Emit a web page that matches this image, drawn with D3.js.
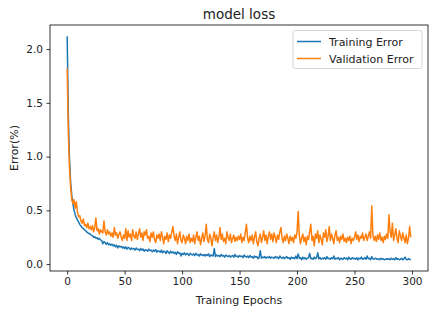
<!DOCTYPE html>
<html>
<head>
<meta charset="utf-8">
<script src="https://cdn.jsdelivr.net/npm/d3@7"></script>
<style>
  body { margin: 0; background: #fff; }
  svg { font-family: 'DejaVu Sans', sans-serif; }
</style>
</head>
<body>
<svg id="chart"></svg>
<script>
// training / validation loss per epoch
const trainLoss = [
  2.12, 1.38, 0.98, 0.76, 0.64, 0.56, 0.50, 0.46, 0.43, 0.41,
  0.39, 0.37, 0.355, 0.34, 0.33, 0.32, 0.31, 0.30, 0.29, 0.285,
  0.28, 0.27, 0.265, 0.25, 0.255, 0.24, 0.245, 0.23, 0.24, 0.225,
  0.22, 0.19, 0.21, 0.2, 0.185, 0.2, 0.18, 0.19, 0.175, 0.185,
  0.17, 0.18, 0.16, 0.175, 0.15, 0.17, 0.16, 0.165, 0.15, 0.16,
  0.145, 0.16, 0.14, 0.155, 0.15, 0.135, 0.15, 0.14, 0.145, 0.13,
  0.15, 0.135, 0.14, 0.125, 0.145, 0.13, 0.14, 0.12, 0.135, 0.13,
  0.12, 0.14, 0.125, 0.13, 0.115, 0.13, 0.12, 0.135, 0.11, 0.125,
  0.12, 0.11, 0.13, 0.105, 0.12, 0.115, 0.1, 0.125, 0.11, 0.1,
  0.12, 0.105, 0.115, 0.1, 0.11, 0.09, 0.115, 0.1, 0.105, 0.075,
  0.1, 0.09, 0.105, 0.085, 0.1, 0.095, 0.08, 0.1, 0.09, 0.085,
  0.095, 0.08, 0.1, 0.085, 0.09, 0.075, 0.095, 0.085, 0.08, 0.09,
  0.075, 0.09, 0.08, 0.095, 0.07, 0.085, 0.08, 0.075, 0.145, 0.07,
  0.085, 0.075, 0.08, 0.07, 0.09, 0.075, 0.08, 0.065, 0.085, 0.075,
  0.07, 0.08, 0.065, 0.075, 0.08, 0.065, 0.09, 0.07, 0.075, 0.065,
  0.08, 0.07, 0.075, 0.06, 0.085, 0.07, 0.065, 0.075, 0.06, 0.08,
  0.065, 0.07, 0.055, 0.075, 0.065, 0.07, 0.05, 0.06, 0.125, 0.055,
  0.065, 0.06, 0.07, 0.055, 0.065, 0.06, 0.07, 0.055, 0.065, 0.06,
  0.055, 0.07, 0.06, 0.065, 0.05, 0.075, 0.06, 0.055, 0.065, 0.05,
  0.06, 0.07, 0.055, 0.06, 0.045, 0.065, 0.055, 0.06, 0.05, 0.075,
  0.05, 0.095, 0.055, 0.06, 0.04, 0.065, 0.05, 0.06, 0.045, 0.055,
  0.06, 0.1, 0.05, 0.055, 0.045, 0.065, 0.05, 0.06, 0.105, 0.05,
  0.06, 0.045, 0.055, 0.05, 0.06, 0.045, 0.07, 0.05, 0.055, 0.045,
  0.06, 0.05, 0.075, 0.045, 0.055, 0.05, 0.06, 0.04, 0.055, 0.05,
  0.045, 0.06, 0.05, 0.055, 0.04, 0.065, 0.05, 0.045, 0.06, 0.05,
  0.055, 0.045, 0.06, 0.04, 0.055, 0.05, 0.065, 0.045, 0.05, 0.06,
  0.045, 0.075, 0.05, 0.055, 0.04, 0.07, 0.05, 0.045, 0.055, 0.05,
  0.045, 0.05, 0.04, 0.055, 0.045, 0.05, 0.04, 0.045, 0.05, 0.045,
  0.05, 0.04, 0.055, 0.045, 0.05, 0.04, 0.06, 0.045, 0.05, 0.04,
  0.045, 0.055, 0.04, 0.05, 0.065, 0.045, 0.04, 0.05, 0.045, 0.04
];

const valLoss = [
  1.82, 1.22, 0.9, 0.72, 0.6, 0.56, 0.6, 0.52, 0.58, 0.48,
  0.44, 0.45, 0.4, 0.38, 0.42, 0.36, 0.37, 0.34, 0.38, 0.33,
  0.35, 0.32, 0.36, 0.3, 0.34, 0.43, 0.31, 0.33, 0.28, 0.32,
  0.3, 0.29, 0.4, 0.3, 0.27, 0.32, 0.28, 0.3, 0.26, 0.29,
  0.25, 0.34, 0.27, 0.29, 0.24, 0.28, 0.3, 0.25, 0.22, 0.27,
  0.24, 0.33, 0.22, 0.31, 0.25, 0.28, 0.22, 0.32, 0.26, 0.24,
  0.3, 0.23, 0.28, 0.33, 0.25, 0.29, 0.22, 0.3, 0.27, 0.32,
  0.24, 0.26, 0.21, 0.29, 0.25, 0.3, 0.23, 0.2, 0.27, 0.24,
  0.28, 0.22, 0.3, 0.25, 0.19, 0.26, 0.23, 0.29, 0.21, 0.27,
  0.24, 0.3, 0.35, 0.26, 0.22, 0.28, 0.19, 0.25, 0.3, 0.22,
  0.2, 0.27, 0.24, 0.19, 0.26, 0.22, 0.28, 0.2, 0.24, 0.21,
  0.27, 0.19, 0.25, 0.3, 0.22, 0.26, 0.18, 0.24, 0.29, 0.21,
  0.26, 0.37, 0.23, 0.2, 0.28, 0.24, 0.17, 0.25, 0.3, 0.22,
  0.27, 0.2, 0.25, 0.34, 0.23, 0.28, 0.21, 0.24, 0.19, 0.3,
  0.25, 0.22, 0.28, 0.2, 0.24, 0.27, 0.21, 0.25, 0.22, 0.26,
  0.23, 0.28, 0.2, 0.25, 0.22, 0.3, 0.37, 0.24, 0.2, 0.26,
  0.22, 0.27, 0.19, 0.25, 0.3, 0.21, 0.17, 0.24, 0.28, 0.2,
  0.25, 0.31, 0.22, 0.27, 0.19, 0.26, 0.3, 0.23, 0.28, 0.21,
  0.29, 0.25, 0.2, 0.27, 0.23, 0.3, 0.34, 0.24, 0.2, 0.26,
  0.22, 0.28, 0.24, 0.19, 0.26, 0.22, 0.25, 0.2, 0.27, 0.24,
  0.3, 0.49, 0.26, 0.19, 0.24, 0.28, 0.21, 0.25, 0.18, 0.26,
  0.23, 0.3, 0.37, 0.22, 0.26, 0.17, 0.28, 0.24, 0.31, 0.2,
  0.27, 0.23, 0.18, 0.29, 0.25, 0.32, 0.21, 0.26, 0.35, 0.22,
  0.28, 0.24, 0.19, 0.27, 0.31, 0.22, 0.25, 0.2, 0.26, 0.23,
  0.28, 0.21, 0.24, 0.2, 0.25, 0.22, 0.26, 0.19, 0.24, 0.22,
  0.25, 0.3, 0.23, 0.27, 0.21, 0.26, 0.24, 0.29, 0.22, 0.25,
  0.28, 0.22, 0.26, 0.3, 0.24, 0.54, 0.27, 0.22, 0.26, 0.21,
  0.27, 0.23, 0.29, 0.22, 0.25, 0.2, 0.26, 0.23, 0.28, 0.24,
  0.46, 0.3, 0.25, 0.38, 0.22, 0.27, 0.33, 0.24, 0.2, 0.31,
  0.26, 0.22, 0.29, 0.24, 0.2, 0.27, 0.19, 0.24, 0.35, 0.25
];

const seriesNames = ['Training Error', 'Validation Error'];
const xTicks = [0, 50, 100, 150, 200, 250, 300];
const yTicks = [0.0, 0.5, 1.0, 1.5, 2.0];

const width = 438, height = 313;
const margin = { top: 25, right: 10, bottom: 42, left: 50 };
const colors = ['#1f77b4', '#ff7f0e'];

const svg = d3.select('#chart')
  .attr('width', width)
  .attr('height', height);

const innerW = width - margin.left - margin.right;
const innerH = height - margin.top - margin.bottom;

// matplotlib-like 5% padding around the data
const n = trainLoss.length;
const xPad = (n - 1) * 0.05;
const allVals = trainLoss.concat(valLoss);
const yMin = d3.min(allVals), yMax = d3.max(allVals);
const yPad = (yMax - yMin) * 0.05;

const x = d3.scaleLinear()
  .domain([-xPad, n - 1 + xPad])
  .range([margin.left, margin.left + innerW]);

const y = d3.scaleLinear()
  .domain([yMin - yPad, yMax + yPad])
  .range([margin.top + innerH, margin.top]);

const line = d3.line()
  .x((d, i) => x(i))
  .y((d) => y(d));

const plot = svg.append('g');

[trainLoss, valLoss].forEach((s, i) => {
  plot.append('path')
    .datum(s)
    .attr('fill', 'none')
    .attr('stroke', colors[i])
    .attr('stroke-width', 1.5)
    .attr('stroke-linejoin', 'round')
    .attr('d', line);
});

// axes
const xAxis = svg.append('g')
  .attr('transform', `translate(0,${margin.top + innerH})`)
  .call(d3.axisBottom(x).tickValues(xTicks).tickSize(3.5).tickPadding(3.5).tickFormat(d3.format('d')));

const yAxis = svg.append('g')
  .attr('transform', `translate(${margin.left},0)`)
  .call(d3.axisLeft(y).tickValues(yTicks).tickSize(3.5).tickPadding(3.5).tickFormat(d3.format('.1f')));

[xAxis, yAxis].forEach((a) => {
  a.select('.domain').remove();
  a.selectAll('.tick line').attr('stroke', '#000').attr('stroke-width', 0.8);
  a.selectAll('.tick text')
    .attr('fill', '#222')
    .style('font-size', '10.5px')
    .style('font-family', 'DejaVu Sans, sans-serif');
});

// frame
svg.append('rect')
  .attr('x', margin.left)
  .attr('y', margin.top)
  .attr('width', innerW)
  .attr('height', innerH)
  .attr('fill', 'none')
  .attr('stroke', '#000')
  .attr('stroke-width', 0.8);

svg.append('text')
  .attr('x', margin.left + innerW / 2)
  .attr('y', 19)
  .attr('text-anchor', 'middle')
  .style('font-size', '13.5px')
  .attr('fill', '#222')
  .text('model loss');

svg.append('text')
  .attr('x', margin.left + innerW / 2)
  .attr('y', 304)
  .attr('text-anchor', 'middle')
  .style('font-size', '11px')
  .attr('fill', '#222')
  .text('Training Epochs');

svg.append('text')
  .attr('transform', `translate(18,${margin.top + innerH / 2}) rotate(-90)`)
  .attr('text-anchor', 'middle')
  .style('font-size', '11px')
  .attr('fill', '#222')
  .text('Error(%)');

// legend
const legend = svg.append('g')
  .attr('transform', `translate(${margin.left + innerW - 135},${margin.top + 5.5})`);

legend.append('rect')
  .attr('width', 129)
  .attr('height', 38)
  .attr('rx', 2)
  .attr('fill', '#fff')
  .attr('fill-opacity', 0.8)
  .attr('stroke', '#ccc')
  .attr('stroke-width', 0.8);

seriesNames.forEach((name, i) => {
  const ly = 11 + i * 17;
  legend.append('line')
    .attr('x1', 4).attr('x2', 28)
    .attr('y1', ly).attr('y2', ly)
    .attr('stroke', colors[i])
    .attr('stroke-width', 1.5);
  legend.append('text')
    .attr('x', 36)
    .attr('y', ly + 4)
    .style('font-size', '11px')
    .attr('fill', '#222')
    .text(name);
});
</script>
</body>
</html>
